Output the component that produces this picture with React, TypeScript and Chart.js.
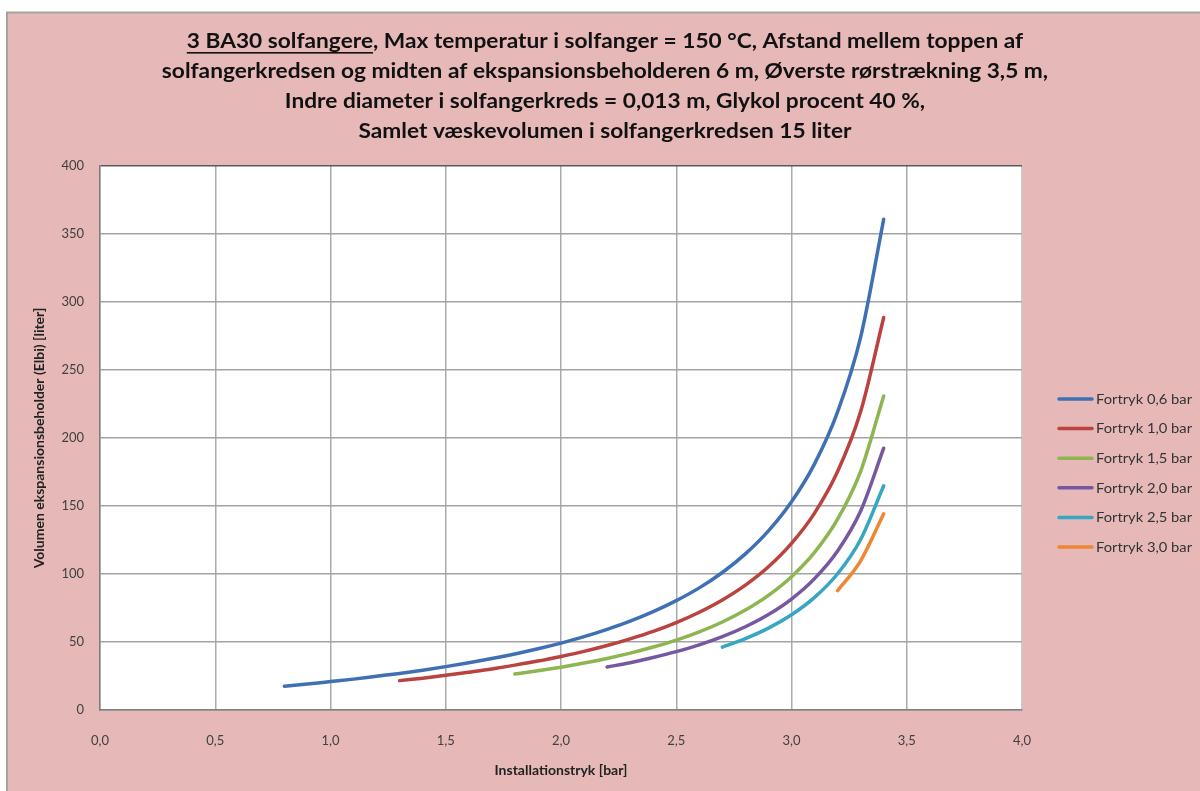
import React, { useEffect, useRef } from "react";
import { Chart, registerables } from "chart.js";

Chart.register(...registerables);

const W = 1200;
const H = 791;

// ---- data ----
const seriesLabels = [
  "Fortryk 0,6 bar",
  "Fortryk 1,0 bar",
  "Fortryk 1,5 bar",
  "Fortryk 2,0 bar",
  "Fortryk 2,5 bar",
  "Fortryk 3,0 bar",
];
const seriesColors = ["#3F70B3", "#BA423F", "#8DB650", "#7658A0", "#36A6C1", "#EE8633"];

const fortryk06X = [0.8, 0.9, 1.0, 1.1, 1.2, 1.3, 1.4, 1.5, 1.6, 1.7, 1.8, 1.9, 2.0, 2.1, 2.2, 2.3, 2.4, 2.5, 2.6, 2.7, 2.8, 2.9, 3.0, 3.1, 3.2, 3.3, 3.4];
const fortryk06Y = [17.5, 19.1, 20.9, 22.7, 24.8, 26.9, 29.3, 31.9, 34.7, 37.8, 41.2, 45.0, 49.2, 53.9, 59.3, 65.3, 72.3, 80.4, 89.8, 101.1, 114.8, 131.7, 153.1, 181.0, 219.2, 274.2, 360.8];

const fortryk10X = [1.3, 1.4, 1.5, 1.6, 1.7, 1.8, 1.9, 2.0, 2.1, 2.2, 2.3, 2.4, 2.5, 2.6, 2.7, 2.8, 2.9, 3.0, 3.1, 3.2, 3.3, 3.4];
const fortryk10Y = [21.6, 23.4, 25.5, 27.8, 30.2, 33.0, 36.0, 39.4, 43.1, 47.4, 52.3, 57.8, 64.3, 71.9, 80.9, 91.8, 105.3, 122.5, 144.8, 175.3, 219.4, 288.6];

const fortryk15X = [1.8, 1.9, 2.0, 2.1, 2.2, 2.3, 2.4, 2.5, 2.6, 2.7, 2.8, 2.9, 3.0, 3.1, 3.2, 3.3, 3.4];
const fortryk15Y = [26.4, 28.8, 31.5, 34.5, 37.9, 41.8, 46.3, 51.4, 57.5, 64.7, 73.5, 84.3, 98.0, 115.9, 140.3, 175.5, 230.9];

const fortryk20X = [2.2, 2.3, 2.4, 2.5, 2.6, 2.7, 2.8, 2.9, 3.0, 3.1, 3.2, 3.3, 3.4];
const fortryk20Y = [31.6, 34.8, 38.6, 42.9, 47.9, 53.9, 61.2, 70.2, 81.6, 96.6, 116.9, 146.3, 192.5];

const fortryk25X = [2.7, 2.8, 2.9, 3.0, 3.1, 3.2, 3.3, 3.4];
const fortryk25Y = [46.2, 52.5, 60.2, 70.0, 82.8, 100.2, 125.4, 164.9];

const fortryk30X = [3.2, 3.3, 3.4];
const fortryk30Y = [87.7, 109.7, 144.3];

const seriesX = [fortryk06X, fortryk10X, fortryk15X, fortryk20X, fortryk25X, fortryk30X];
const seriesY = [fortryk06Y, fortryk10Y, fortryk15Y, fortryk20Y, fortryk25Y, fortryk30Y];

const titleLines = [
  "3 BA30 solfangere, Max temperatur i solfanger = 150 °C, Afstand mellem toppen af",
  "solfangerkredsen og midten af ekspansionsbeholderen 6 m, Øverste rørstrækning 3,5 m,",
  "Indre diameter i solfangerkreds = 0,013 m, Glykol procent 40 %,",
  "Samlet væskevolumen i solfangerkredsen 15 liter",
];
const underlinedPart = "3 BA30 solfangere";

const xAxisTitle = "Installationstryk [bar]";
const yAxisTitle = "Volumen ekspansionsbeholder (Elbi) [liter]";

const FONT = "Lato, 'Open Sans', sans-serif";

const decoPlugin = {
  id: "deco",
  beforeDraw(chart: any) {
    const ctx = chart.ctx as CanvasRenderingContext2D;
    ctx.save();
    ctx.fillStyle = "#ffffff";
    ctx.fillRect(0, 0, W, H);
    ctx.fillStyle = "#E6B9B8";
    ctx.fillRect(7, 13, W - 7, H - 13);
    ctx.strokeStyle = "#a3a3a3";
    ctx.lineWidth = 2;
    ctx.beginPath();
    ctx.moveTo(7, H);
    ctx.lineTo(7, 12.5);
    ctx.lineTo(W, 12.5);
    ctx.stroke();
    const a = chart.chartArea;
    ctx.fillStyle = "#ffffff";
    ctx.fillRect(a.left, a.top, a.right - a.left, a.bottom - a.top);
    ctx.restore();
  },
  afterDraw(chart: any) {
    const ctx = chart.ctx as CanvasRenderingContext2D;
    ctx.save();
    // title
    ctx.font = `bold 20px ${FONT}`;
    ctx.fillStyle = "#111111";
    ctx.textBaseline = "middle";
    ctx.textAlign = "left";
    const cx = 605;
    const targetTotal = 838 + 892 + 629 + 497;
    let natural = 0;
    titleLines.forEach((l) => (natural += ctx.measureText(l).width));
    const sx = targetTotal / natural;
    titleLines.forEach((line, i) => {
      const y = 42 + i * 29.7;
      const w = ctx.measureText(line).width;
      ctx.save();
      ctx.translate(cx - (w * sx) / 2, y);
      ctx.scale(sx, 1);
      ctx.fillText(line, 0, 0);
      if (i === 0) {
        const uw = ctx.measureText(underlinedPart).width;
        ctx.fillRect(0, 10, uw, 1.6);
      }
      ctx.restore();
    });
    // legend
    ctx.font = `13.5px ${FONT}`;
    ctx.lineCap = "round";
    seriesLabels.forEach((lab, i) => {
      const y = 399 + i * 29.6;
      ctx.strokeStyle = seriesColors[i];
      ctx.lineWidth = 3.5;
      ctx.beginPath();
      ctx.moveTo(1059, y);
      ctx.lineTo(1092, y);
      ctx.stroke();
      ctx.fillStyle = "#333333";
      const tw = ctx.measureText(lab).width;
      const lsx = 96 / tw;
      ctx.save();
      ctx.translate(1096, y + 0.5);
      ctx.scale(lsx, 1);
      ctx.fillText(lab, 0, 0);
      ctx.restore();
    });
    ctx.restore();
  },
};

export default function App() {
  const ref = useRef<HTMLCanvasElement | null>(null);
  useEffect(() => {
    document.body.style.margin = "0";
    const canvas = ref.current;
    if (!canvas) return;
    const datasets = seriesLabels.map((label, i) => ({
      label,
      data: seriesX[i].map((x, j) => ({ x, y: seriesY[i][j] })),
      borderColor: seriesColors[i],
      backgroundColor: seriesColors[i],
      borderWidth: 3.5,
      pointRadius: 0,
      borderCapStyle: "round" as const,
      cubicInterpolationMode: "monotone" as const,
      fill: false,
    }));
    const chart = new Chart(canvas, {
      type: "line",
      data: { datasets },
      plugins: [decoPlugin],
      options: {
        responsive: false,
        animation: false,
        layout: { padding: { left: 0, top: 166, right: 178, bottom: 0 } },
        plugins: {
          legend: { display: false },
          title: { display: false },
          tooltip: { enabled: false },
        },
        scales: {
          x: {
            type: "linear",
            min: 0,
            max: 4,
            afterFit: (s: any) => {
              s.height = 81;
            },
            ticks: {
              stepSize: 0.5,
              padding: 23,
              color: "#404040",
              font: { family: FONT, size: 13 },
              callback: (v: any) => Number(v).toFixed(1).replace(".", ","),
            },
            grid: {
              drawTicks: false,
              color: (c: any) => (c.tick && c.tick.value === 4 ? "#c9c9c9" : "#ababab"),
              lineWidth: 1.5,
            },
            border: { color: "#7f7f7f", width: 1.5 },
            title: {
              display: true,
              text: xAxisTitle,
              color: "#222222",
              font: { family: FONT, size: 14, weight: "bold" },
              padding: { top: 0, bottom: 12.6 },
            },
          },
          y: {
            type: "linear",
            min: 0,
            max: 400,
            afterFit: (s: any) => {
              s.width = 100;
            },
            ticks: {
              stepSize: 50,
              padding: 16,
              color: "#404040",
              font: { family: FONT, size: 13 },
            },
            grid: {
              drawTicks: false,
              color: (c: any) => (c.tick && c.tick.value === 400 ? "#5a5a5a" : "#a3a3a3"),
              lineWidth: 1.5,
            },
            border: { color: "#7f7f7f", width: 1.5 },
            title: {
              display: true,
              text: yAxisTitle,
              color: "#222222",
              font: { family: FONT, size: 14, weight: "bold" },
              padding: { top: 31, bottom: 0 },
            },
          },
        },
      },
    });
    return () => chart.destroy();
  }, []);
  return <canvas ref={ref} width={W} height={H} style={{ display: "block", width: W, height: H }} />;
}
